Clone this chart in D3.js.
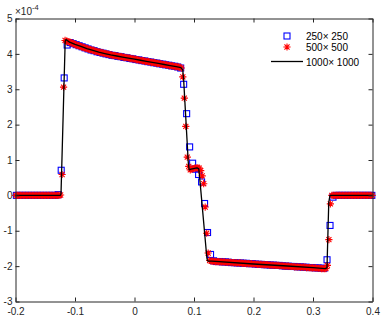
<!DOCTYPE html>
<html><head><meta charset="utf-8">
<script src="https://cdn.jsdelivr.net/npm/d3@7"></script>
<style>html,body{margin:0;padding:0;background:#fff;}svg{display:block;}</style>
</head><body>
<script>
// ---- data (values in units of 1e-4) ----
const xTicks = [-0.2, -0.1, 0, 0.1, 0.2, 0.3, 0.4];
const xTickLabels = ["-0.2", "-0.1", "0", "0.1", "0.2", "0.3", "0.4"];
const yTicks = [-3, -2, -1, 0, 1, 2, 3, 4, 5];
const yTickLabels = ["-3", "-2", "-1", "0", "1", "2", "3", "4", "5"];
const seriesNames = ["250\u00d7 250", "500\u00d7 500", "1000\u00d7 1000"];

// 250x250 grid samples (cell centres start / spacing)
const grid250 = { first: -0.1985, step: 0.00502 };
const y250 = [
  0,0,0,0,0,0,0,0,0,0,0,0,0,0,0.02,
  0.71,3.32,4.25,4.32,4.29,4.26,4.23,4.20,4.17,4.14,4.11,4.09,4.06,4.04,4.02,4.00,
  3.98,3.96,3.95,3.93,3.92,3.90,3.89,3.87,3.86,3.84,3.83,3.81,3.80,3.78,3.77,3.75,
  3.74,3.72,3.71,3.69,3.68,3.66,3.65,3.63,3.60,
  3.14,2.31,1.37,0.91,0.74,0.59,0.38,-0.23,-1.05,-1.67,
  -1.85,-1.87,-1.87,-1.88,-1.88,-1.89,-1.90,-1.90,-1.91,-1.91,-1.92,-1.92,-1.93,-1.93,
  -1.94,-1.95,-1.95,-1.96,-1.96,-1.97,-1.97,-1.98,-1.98,-1.99,-2.00,-2.00,-2.01,-2.01,
  -2.02,-2.02,-2.03,-2.03,-2.04,-2.04,-2.05,-2.05,-2.06,-2.06,
  -1.82,-0.85,-0.05,
  0,0,0,0,0,0,0,0,0,0,0,0,0
];

// 500x500 grid samples
const grid500 = { first: -0.199355, step: 0.002505 };
const y500 = [
  0,0,0,0,0,0,0,0,0,0,0,0,0,0,0,0,0,0,0,0,0,0,0,0,0,0,0,0,0,0,0.01,
  0.59,3.06,4.38,4.36,
  4.35,4.33,4.32,4.30,4.28,4.26,4.25,4.23,4.22,4.20,4.19,4.17,4.16,4.15,4.13,4.12,
  4.11,4.10,4.08,4.07,4.06,4.05,4.04,4.03,4.02,4.01,4.00,3.99,3.98,3.97,3.96,3.95,
  3.95,3.94,3.93,3.92,3.92,3.91,3.90,3.89,3.89,3.88,3.87,3.86,3.86,3.85,3.84,3.83,
  3.82,3.82,3.81,3.80,3.79,3.79,3.78,3.77,3.76,3.76,3.75,3.74,3.73,3.73,3.72,3.71,
  3.70,3.70,3.69,3.68,3.67,3.67,3.66,3.65,3.64,3.64,3.63,3.62,3.60,
  3.35,2.75,1.95,1.08,0.82,0.72,0.74,0.76,0.77,0.78,0.78,0.77,0.70,0.55,0.33,
  -0.33,-1.07,-1.63,-1.84,
  -1.86,-1.86,-1.86,-1.87,-1.87,-1.87,-1.88,-1.88,-1.88,-1.88,-1.89,-1.89,-1.89,-1.89,
  -1.90,-1.90,-1.90,-1.91,-1.91,-1.91,-1.91,-1.92,-1.92,-1.92,-1.93,-1.93,-1.93,-1.93,
  -1.94,-1.94,-1.94,-1.95,-1.95,-1.95,-1.95,-1.96,-1.96,-1.96,-1.96,-1.97,-1.97,-1.97,
  -1.98,-1.98,-1.98,-1.98,-1.99,-1.99,-1.99,-2.00,-2.00,-2.00,-2.00,-2.01,-2.01,-2.01,
  -2.02,-2.02,-2.02,-2.02,-2.03,-2.03,-2.03,-2.03,-2.04,-2.04,-2.04,-2.05,-2.05,-2.05,
  -2.05,-2.06,-2.06,-2.06,-2.07,-2.07,-2.07,-2.07,
  -1.98,-1.25,-0.24,
  0,0,0,0,0,0,0,0,0,0,0,0,0,0,0,0,0,0,0,0,0,0,0,0,0,0,0,0
];

// 1000x1000 reference line (vertices)
const x1000 = [-0.2,-0.1245,-0.1235,-0.1165,-0.115,-0.113,-0.11,-0.10,-0.09,-0.08,-0.07,-0.06,-0.05,-0.04,-0.03,-0.02,-0.01,0,0.01,0.02,0.03,0.04,0.05,0.06,0.07,0.078,0.081,0.0825,0.0905,0.092,0.095,0.105,0.108,0.109,0.1215,0.1225,0.124,0.13,0.2,0.25,0.3,0.3205,0.3235,0.3265,0.3285,0.4];
const y1000 = [0,0,0.05,4.35,4.41,4.38,4.34,4.27,4.21,4.15,4.10,4.05,4.01,3.97,3.94,3.91,3.88,3.85,3.82,3.79,3.76,3.73,3.70,3.67,3.64,3.61,3.55,3.30,0.90,0.72,0.74,0.78,0.75,0.60,-1.75,-1.84,-1.86,-1.86,-1.94,-1.99,-2.04,-2.07,-2.05,-0.20,0,0];

// ---- drawing ----
const W = 382, H = 320;
const svg = d3.select("body").append("svg").attr("width", W).attr("height", H)
  .style("font-family", "'Liberation Sans', Arial, Helvetica, sans-serif");

const x = d3.scaleLinear().domain([-0.2, 0.4]).range([15.5, 372.5]);
const y = d3.scaleLinear().domain([-3, 5]).range([301.5, 18.5]);
const axisColor = "#262626";
const tickLen = 4;
const sq = 6;

const pts250 = y250.map((v, i) => [grid250.first + i * grid250.step, v]);
const pts500 = y500.map((v, i) => [grid500.first + i * grid500.step, v]);
const pts1000 = x1000.map((v, i) => [v, y1000[i]]);

const plot = svg.append("g");
// squares
plot.append("g").selectAll("rect").data(pts250).join("rect")
  .attr("x", d => x(d[0]) - sq / 2).attr("y", d => y(d[1]) - sq / 2)
  .attr("width", sq).attr("height", sq)
  .attr("fill", "none").attr("stroke", "#0000ff").attr("stroke-width", 1.1);
// stars
const starPath = r => {
  const a = r * 0.7071;
  return `M${-r},0L${r},0M0,${-r}L0,${r}M${-a},${-a}L${a},${a}M${-a},${a}L${a},${-a}`;
};
plot.append("g").selectAll("path").data(pts500).join("path")
  .attr("transform", d => `translate(${x(d[0])},${y(d[1])})`)
  .attr("d", starPath(3.6))
  .attr("fill", "none").attr("stroke", "#ff0000").attr("stroke-width", 1.1);
// line
plot.append("path").datum(pts1000)
  .attr("d", d3.line().x(d => x(d[0])).y(d => y(d[1])))
  .attr("fill", "none").attr("stroke", "#000").attr("stroke-width", 1.3)
  .attr("stroke-linejoin", "round");

// axes box and ticks
const axG = svg.append("g");
const xAxisB = d3.axisBottom(x).tickValues(xTicks).tickSizeInner(-tickLen).tickSizeOuter(0)
  .tickFormat((d, i) => xTickLabels[i]);
const gxb = axG.append("g").attr("transform", `translate(0,${y(-3)})`).call(xAxisB);
gxb.selectAll("text").attr("dy", "0").attr("y", 13).style("font-size", "10px");
const xAxisT = d3.axisTop(x).tickValues(xTicks).tickSizeInner(-tickLen).tickSizeOuter(0).tickFormat("");
axG.append("g").attr("transform", `translate(0,${y(5)})`).call(xAxisT);
const yAxisL = d3.axisLeft(y).tickValues(yTicks).tickSizeInner(-tickLen).tickSizeOuter(0)
  .tickFormat((d, i) => yTickLabels[i]);
const gyl = axG.append("g").attr("transform", `translate(${x(-0.2)},0)`).call(yAxisL);
gyl.selectAll("text").attr("x", -3).style("font-size", "10px");
const yAxisR = d3.axisRight(y).tickValues(yTicks).tickSizeInner(-tickLen).tickSizeOuter(0).tickFormat("");
axG.append("g").attr("transform", `translate(${x(0.4)},0)`).call(yAxisR);
axG.selectAll(".domain").attr("stroke", axisColor).attr("stroke-width", 1);
axG.selectAll(".tick line").attr("stroke", axisColor).attr("stroke-width", 1);
axG.selectAll(".tick text").attr("fill", axisColor);

// exponent label
const ex = svg.append("text").attr("x", 15).attr("y", 15).attr("fill", axisColor)
  .style("font-size", "10px");
ex.append("tspan").text("\u00d710");
ex.append("tspan").attr("dy", -5).style("font-size", "7.5px").text("-4");

// legend
const lg = svg.append("g");
lg.append("rect").attr("x", 287 - sq / 2).attr("y", 36 - sq / 2).attr("width", sq).attr("height", sq)
  .attr("fill", "none").attr("stroke", "#0000ff").attr("stroke-width", 1.1);
lg.append("path").attr("transform", "translate(287,47)").attr("d", starPath(3.6))
  .attr("fill", "none").attr("stroke", "#ff0000").attr("stroke-width", 1.1);
lg.append("line").attr("x1", 271).attr("x2", 303).attr("y1", 61.5).attr("y2", 61.5)
  .attr("stroke", "#000").attr("stroke-width", 1.3);
[36, 47, 62].forEach((yy, i) => {
  lg.append("text").attr("x", 306).attr("y", yy).attr("dy", "0.35em")
    .style("font-size", "10px").attr("fill", "#000").text(seriesNames[i]);
});
</script>
</body></html>
